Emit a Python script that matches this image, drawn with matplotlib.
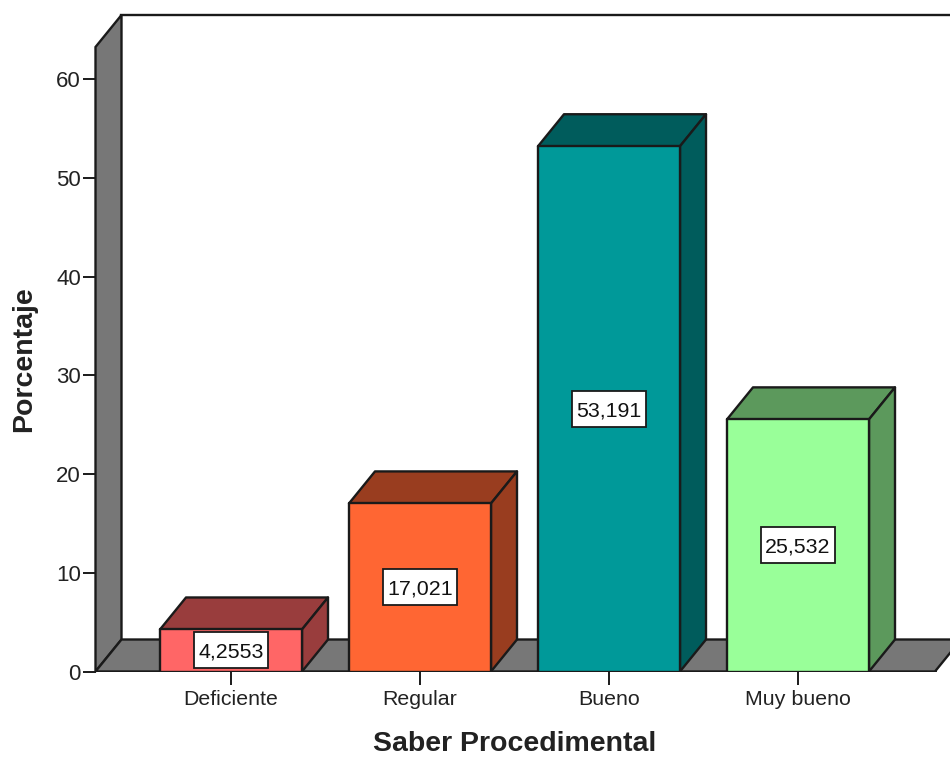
import matplotlib
matplotlib.use("Agg")
import matplotlib.pyplot as plt

plt.rcParams['font.family'] = ['Liberation Sans', 'DejaVu Sans']

categories = ["Deficiente", "Regular", "Bueno", "Muy bueno"]
values = [4.2553, 17.021, 53.191, 25.532]
value_labels = ["4,2553", "17,021", "53,191", "25,532"]
front_colors = ["#FF6666", "#FF6633", "#009999", "#99FF99"]
side_colors = ["#993D3D", "#993D1F", "#005C5C", "#5C995C"]
y_ticks = [0, 10, 20, 30, 40, 50, 60]

W, H = 950, 758
fig = plt.figure(figsize=(W / 100, H / 100), dpi=100, facecolor="white")

# pixel geometry of the axes
L, R, B, T = 95.5, 950, 671.5, 16
ax = fig.add_axes([L / W, 1 - B / H, (R - L) / W, (B - T) / H])
PX_X = 189.0      # pixels per category
PX_Y = 9.875      # pixels per percent
X0 = 231.0        # pixel centre of first category
ax.set_xlim((L - X0) / PX_X, (R - X0) / PX_X)
ax.set_ylim(0, (B - T) / PX_Y)

dx = 26 / PX_X    # depth offset in data units
dy = 32 / PX_Y
bw = 142 / PX_X   # bar width
xl = ax.get_xlim()[0]
ymax_front = (B - 47) / PX_Y
far_right = (961 - X0) / PX_X
EC = "#1a1a1a"
LW = 1.7
GREY = "#777777"

# walls and floor
ax.fill([xl, xl + dx, xl + dx, xl], [0, dy, ymax_front + dy, ymax_front],
        fc=GREY, ec=EC, lw=LW, zorder=1, clip_on=False)
ax.fill([xl, xl + dx, far_right, far_right - dx], [0, dy, dy, 0],
        fc=GREY, ec=EC, lw=LW, zorder=1, clip_on=True)
ax.plot([xl + dx, ax.get_xlim()[1]], [ymax_front + dy] * 2, color=EC, lw=LW, zorder=1, clip_on=False)
ax.plot([xl, far_right - dx], [0, 0], color=EC, lw=LW + 0.4, zorder=2)

# label box half sizes
box_hw = 37 / PX_X
box_hh = 18 / PX_Y

# bars
for i, (v, fc, sc) in enumerate(zip(values, front_colors, side_colors)):
    x0, x1 = i - bw / 2, i + bw / 2
    ax.fill([x0, x0 + dx, x1 + dx, x1], [v, v + dy, v + dy, v], fc=sc, ec=EC, lw=LW, zorder=3, joinstyle="round")
    ax.fill([x1, x1 + dx, x1 + dx, x1], [0, dy, v + dy, v], fc=sc, ec=EC, lw=LW, zorder=3, joinstyle="round")
    ax.fill([x0, x1, x1, x0], [0, 0, v, v], fc=fc, ec=EC, lw=LW, zorder=4, joinstyle="round")
    yc = v / 2
    ax.fill([i - box_hw, i + box_hw, i + box_hw, i - box_hw],
            [yc - box_hh, yc - box_hh, yc + box_hh, yc + box_hh],
            fc="white", ec=EC, lw=1.3, zorder=5)
    ax.text(i, yc, value_labels[i], ha="center", va="center_baseline", fontsize=15.4,
            color="#111111", zorder=6)

for s in ax.spines.values():
    s.set_visible(False)
ax.patch.set_alpha(0)
ax.set_xticks(range(len(categories)), categories)
ax.set_yticks(y_ticks)
ax.tick_params(axis="x", length=9.5, width=1.4, color=EC, labelsize=15.4, labelcolor="#222222", pad=3.5)
ax.tick_params(axis="y", length=9.5, width=1.4, color=EC, labelsize=16, labelcolor="#222222", pad=1)

fig.text(515 / W, 1 - 751 / H, "Saber Procedimental", ha="center", va="baseline",
         fontsize=20.5, fontweight="bold", color="#222222")
fig.text(24 / W, 1 - 359 / H, "Porcentaje", ha="center", va="center", rotation=90,
         fontsize=20.5, fontweight="bold", color="#222222")

fig.savefig("out.png", dpi=100)
